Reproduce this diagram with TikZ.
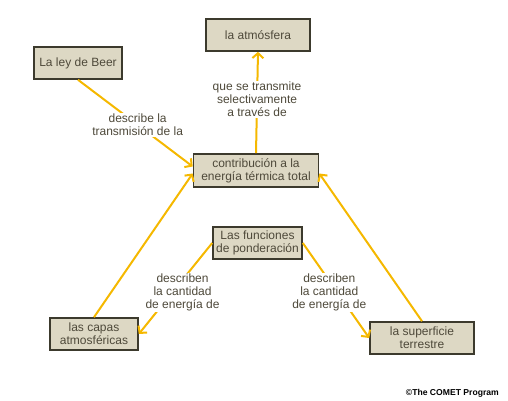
\documentclass[tikz,border=0pt]{standalone}
\usepackage{fontspec}
\setmainfont{Liberation Sans}
\usepackage{tikz}
\usetikzlibrary{arrows.meta}
\usepackage{xcolor}
\definecolor{boxfill}{RGB}{221,216,196}
\definecolor{boxline}{RGB}{60,58,45}
\definecolor{txt}{RGB}{78,73,58}
\definecolor{link}{RGB}{245,184,0}

\begin{document}
\begin{tikzpicture}[x=1pt, y=-1pt,
        concept/.style={draw=boxline, line width=1.6pt, fill=boxfill, text=txt, align=center,
            minimum height=32pt, inner xsep=2pt, inner ysep=1pt,
            font=\fontsize{12}{13}\selectfont},
        linktext/.style={fill=white, text=txt, align=center, inner sep=1pt,
            font=\fontsize{12}{13}\selectfont},
        link/.style={draw=link, line width=2pt, -{Straight Barb[length=5pt, width=11pt]}}]
        \useasboundingbox (0,0) rectangle (508,401);
        \node[concept, minimum width=104pt] (atm) at (258,35) {la atmósfera};
        \node[concept, minimum width=88pt] (beer) at (78,63) {La ley de Beer};
        \node[concept, minimum width=125pt, minimum height=33pt] (contrib) at (256,170.5) {contribución a la\\energía térmica total};
        \node[concept, minimum width=89pt] (func) at (257.5,243) {Las funciones\\de ponderación};
        \node[concept, minimum width=88pt] (capas) at (94,334) {las capas\\atmosféricas};
        \node[concept, minimum width=104pt] (sup) at (422,338) {la superficie\\terrestre};
        \draw[link] (beer.south) -- node[linktext, pos=0.52] {describe la\\transmisión de la} ([yshift=4pt]contrib.west);
        \draw[link] (contrib.north) -- node[linktext, pos=0.53] {que se transmite\\selectivamente\\a través de} (atm.south);
        \draw[link] (capas.north) -- ([yshift=-3pt]contrib.west);
        \draw[link] (sup.north) -- ([yshift=-3pt]contrib.east);
        \draw[link] (func.west) -- node[linktext, pos=0.54, xshift=10pt] {describen\\la cantidad\\de energía de} (capas.east);
        \draw[link] (func.east) -- node[linktext, pos=0.52, xshift=-8pt] {describen\\la cantidad\\de energía de} (sup.west);
        \node[font=\fontsize{8.6}{10}\selectfont\bfseries, anchor=east, inner sep=0pt] (copy) at (499,393) {©The COMET Program};
\end{tikzpicture}
\end{document}
